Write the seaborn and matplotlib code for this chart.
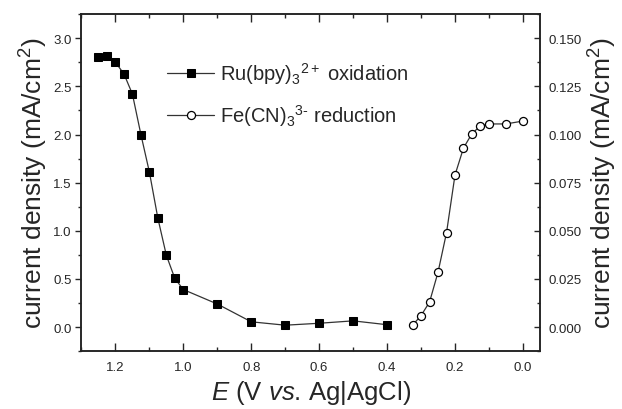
import matplotlib
matplotlib.use('Agg')
import matplotlib.pyplot as plt
from matplotlib.ticker import MultipleLocator
import numpy as np
import pandas as pd
import seaborn as sns

# Ru(bpy)3 2+ oxidation, left axis
ru_E = [1.25, 1.225, 1.2, 1.175, 1.15, 1.125, 1.1, 1.075, 1.05, 1.025, 1.0,
        0.9, 0.8, 0.7, 0.6, 0.5, 0.4]
ru_j = [2.81, 2.815, 2.75, 2.63, 2.42, 2.0, 1.61, 1.13, 0.745, 0.505, 0.39,
        0.24, 0.055, 0.02, 0.04, 0.065, 0.025]

# Fe(CN) reduction, right axis
fe_E = [0.325, 0.3, 0.275, 0.25, 0.225, 0.2, 0.175, 0.15, 0.125, 0.1, 0.05, 0.0]
fe_j = [0.001, 0.006, 0.013, 0.0285, 0.049, 0.079, 0.093, 0.1005, 0.1045,
        0.1055, 0.1055, 0.107]

sns.set_style('ticks')
plt.rcParams['font.family'] = ['Liberation Sans', 'DejaVu Sans']
plt.rcParams['mathtext.fontset'] = 'custom'
plt.rcParams['mathtext.rm'] = 'Liberation Sans'
plt.rcParams['mathtext.it'] = 'Liberation Sans:italic'
plt.rcParams['mathtext.default'] = 'regular'

ru = pd.DataFrame({'E': ru_E, 'j': ru_j})
fe = pd.DataFrame({'E': fe_E, 'j': fe_j})

fig = plt.figure(figsize=(6.22, 4.10), dpi=100)
ax = fig.add_axes([0.131, 0.141, 0.737, 0.822])
ax2 = ax.twinx()

sns.lineplot(data=ru, x='E', y='j', ax=ax, color='#333333', linewidth=0.9,
             marker='s', markersize=5.5, markerfacecolor='black',
             markeredgecolor='black', label='Ru(bpy)$_3$$^{2+}$ oxidation',
             legend=False)
sns.lineplot(data=fe, x='E', y='j', ax=ax2, color='#333333', linewidth=0.9,
             marker='o', markersize=5.8, markerfacecolor='white',
             markeredgecolor='black', markeredgewidth=0.9,
             label='Fe(CN)$_3$$^{3\\text{-}}$ reduction', legend=False)

ax.set_xlim(1.3, -0.05)
ax.set_ylim(-0.25, 3.25)
ax2.set_ylim(-0.0125, 0.1625)

ax.xaxis.set_major_locator(MultipleLocator(0.2))
ax.xaxis.set_minor_locator(MultipleLocator(0.1))
ax.yaxis.set_major_locator(MultipleLocator(0.5))
ax.yaxis.set_minor_locator(MultipleLocator(0.25))
ax2.yaxis.set_major_locator(MultipleLocator(0.025))
ax2.yaxis.set_minor_locator(MultipleLocator(0.0125))

ax.xaxis.set_major_formatter(plt.FormatStrFormatter('%.1f'))
ax.yaxis.set_major_formatter(plt.FormatStrFormatter('%.1f'))
ax2.yaxis.set_major_formatter(plt.FormatStrFormatter('%.3f'))

ax.tick_params(axis='x', which='both', direction='in', top=True, labelsize=9.5, pad=7)
ax.tick_params(axis='x', which='major', length=5.5, width=1)
ax.tick_params(axis='x', which='minor', length=3, width=1)
ax.tick_params(axis='y', which='both', direction='out', labelsize=9.5, pad=3)
ax.tick_params(axis='y', which='major', length=4, width=1)
ax.tick_params(axis='y', which='minor', length=2.5, width=1)
ax2.tick_params(axis='y', which='both', direction='in', labelsize=9.5, pad=6)
ax2.tick_params(axis='y', which='major', length=4, width=1)
ax2.tick_params(axis='y', which='minor', length=2.5, width=1)

for a in (ax, ax2):
    for s in a.spines.values():
        s.set_visible(True)
        s.set_linewidth(1.1)
        s.set_color('#222222')

ax.set_xlabel('$\\mathit{E}$ (V $\\mathit{vs}$. Ag|AgCl)', fontsize=18.5, labelpad=4)
ax.set_ylabel('current density (mA/cm$^2$)', fontsize=19, labelpad=2)
ax2.set_ylabel('current density (mA/cm$^2$)', fontsize=19, labelpad=4)

h1, l1 = ax.get_legend_handles_labels()
h2, l2 = ax2.get_legend_handles_labels()
ax.legend(h1 + h2, l1 + l2, loc='upper left', bbox_to_anchor=(0.17, 0.887),
          frameon=False, fontsize=14.5, handlelength=2.3, handletextpad=0.3,
          labelspacing=0.8, borderaxespad=0)

fig.savefig('out.png', dpi=100)
